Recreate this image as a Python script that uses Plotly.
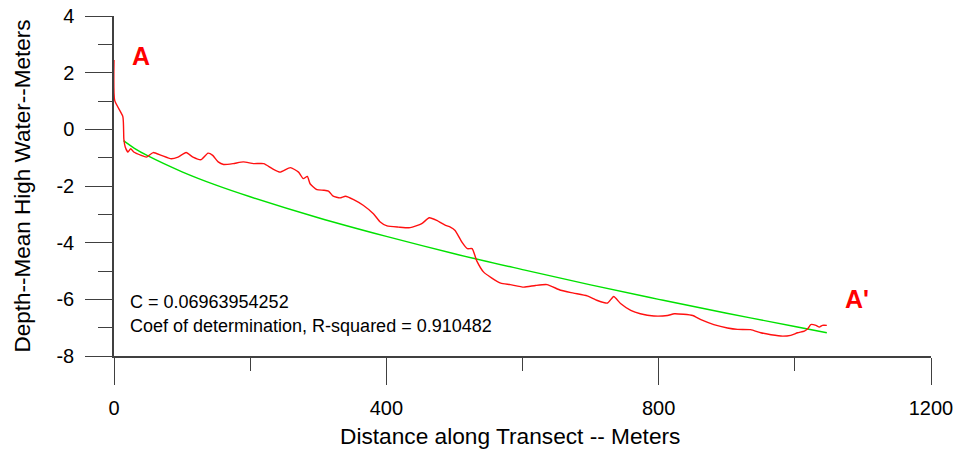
import plotly.graph_objects as go

# Measured profile (distance along transect, depth relative to MHW)
profile_x = [0, 1, 13, 14.5, 16.5, 20.5, 24.5, 29, 40, 47.5, 57.5, 69.5, 84, 94, 106, 116, 128, 138, 145,
             153, 161, 175, 190, 205, 220, 232, 244, 259, 271, 278, 284, 288, 298, 308, 315, 322, 332, 340,
             352, 366, 381, 391, 401, 418, 435, 452, 463, 474, 487, 494, 501, 511, 519, 526, 533, 543, 555,
             568, 582, 602, 619, 636, 656, 675, 695, 710, 725, 734, 744, 759, 773, 793, 813, 823, 850, 862,
             881, 901, 916, 935, 950, 965, 982, 994, 1004, 1014, 1019, 1023.5, 1031, 1036, 1040.5, 1047]
profile_y = [2.45, 1.02, 0.45, -0.35, -0.62, -0.80, -0.68, -0.80, -0.92, -0.98, -0.82, -0.92, -1.04, -0.98,
             -0.82, -0.98, -1.07, -0.84, -0.92, -1.15, -1.24, -1.21, -1.15, -1.21, -1.21, -1.38, -1.51, -1.35,
             -1.51, -1.74, -1.66, -1.92, -2.13, -2.15, -2.18, -2.36, -2.42, -2.36, -2.48, -2.68, -2.98, -3.27,
             -3.41, -3.45, -3.47, -3.33, -3.12, -3.21, -3.39, -3.45, -3.57, -3.98, -4.21, -4.21, -4.65, -5.04,
             -5.25, -5.43, -5.48, -5.57, -5.51, -5.48, -5.68, -5.78, -5.88, -6.04, -6.13, -5.90, -6.15, -6.39,
             -6.51, -6.59, -6.57, -6.51, -6.57, -6.72, -6.89, -7.01, -7.06, -7.07, -7.18, -7.25, -7.30, -7.27,
             -7.18, -7.12, -7.04, -6.89, -6.92, -6.98, -6.92, -6.92]

# Fitted equilibrium curve
fit_x = [14, 30, 50, 100, 150, 200, 300, 400, 500, 600, 700, 800, 900, 1000, 1047]
fit_y = [-0.40, -0.67, -0.94, -1.50, -1.97, -2.38, -3.12, -3.78, -4.39, -4.95, -5.49, -6.00, -6.49, -6.96, -7.18]

x_ticks = [0, 400, 800, 1200]
y_ticks = [-8, -6, -4, -2, 0, 2, 4]

FONT = "Arial, Liberation Sans, sans-serif"
AXC = "#404040"

fig = go.Figure()
fig.add_trace(go.Scatter(x=fit_x, y=fit_y, mode="lines", line=dict(color="rgb(0,225,0)", width=1.4, shape="spline"),
                         showlegend=False, hoverinfo="skip"))
fig.add_trace(go.Scatter(x=profile_x, y=profile_y, mode="lines", line=dict(color="#ff1010", width=1.4, shape="spline", smoothing=0.5),
                         showlegend=False))

fig.update_layout(
    width=959, height=449,
    margin=dict(l=114, r=28, t=16, b=93),
    paper_bgcolor="white", plot_bgcolor="white",
    font=dict(family=FONT, size=20, color="black"),
    xaxis=dict(range=[0, 1200], tickvals=x_ticks, ticktext=[str(v) for v in x_ticks], automargin=False,
               showgrid=False, zeroline=False, showline=True, linecolor=AXC, linewidth=1.5,
               ticks="outside", ticklen=27, tickcolor=AXC, tickwidth=1.2,
               minor=dict(dtick=200, ticks="outside", ticklen=13, tickcolor=AXC, tickwidth=1.2, showgrid=False),
               tickfont=dict(size=20), ticklabelstandoff=6),
    yaxis=dict(range=[-8, 4], tickvals=y_ticks, ticktext=[str(v) for v in y_ticks], automargin=False,
               showgrid=False, zeroline=False, showline=True, linecolor=AXC, linewidth=1.5,
               ticks="outside", ticklen=27, tickcolor=AXC, tickwidth=1.2,
               minor=dict(dtick=1, ticks="outside", ticklen=14, tickcolor=AXC, tickwidth=1.2, showgrid=False),
               tickfont=dict(size=20), ticklabelstandoff=7,
               title=dict(text="Depth--Mean High Water--Meters", font=dict(size=22.5), standoff=20)),
    annotations=[
        dict(x=0.4847, y=-0.235, xref="paper", yref="paper", text="Distance along Transect -- Meters",
             showarrow=False, font=dict(size=22.7, color="black"), xanchor="center", yanchor="middle"),
        dict(x=39, y=2.58, xref="x", yref="y", text="<b>A</b>", showarrow=False,
             font=dict(size=25, color="#ff0000"), xanchor="center", yanchor="middle"),
        dict(x=1091, y=-6.0, xref="x", yref="y", text="<b>A'</b>", showarrow=False,
             font=dict(size=25, color="#ff0000"), xanchor="center", yanchor="middle"),
        dict(x=20.6, y=-6.11, xref="x", yref="y", text="C = 0.06963954252", showarrow=False,
             font=dict(size=18, color="black"), xanchor="left", yanchor="middle"),
        dict(x=20.6, y=-6.95, xref="x", yref="y", text="Coef of determination, R-squared = 0.910482", showarrow=False,
             font=dict(size=18, color="black"), xanchor="left", yanchor="middle"),
    ],
)

fig.write_html("out.html")
